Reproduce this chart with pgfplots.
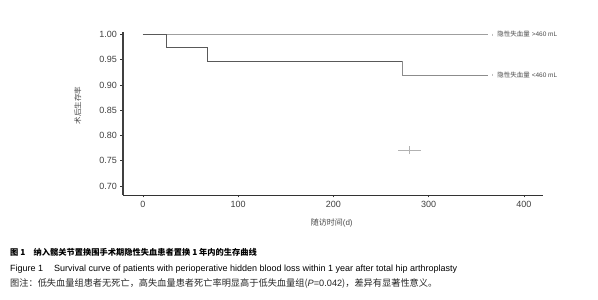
\documentclass[border=0pt]{standalone}
\usepackage{pgfplots}
\pgfplotsset{compat=1.18}
\usepackage{fontspec}
\setmainfont{Liberation Sans}
\newfontfamily\cjk{Noto Sans CJK SC}
\begin{document}
\begin{tikzpicture}
\path[use as bounding box, fill=white] (0pt,0pt) rectangle (598pt,300pt);
\begin{axis}[
  at={(123pt,105pt)}, anchor=south west,
  scale only axis, width=420pt, height=163pt,
  xmin=-21, xmax=420, ymin=0.682, ymax=1.005,
  axis x line*=bottom, axis y line*=left,
  x axis line style={black!80, line width=0.8pt, -},
  y axis line style={black!75, line width=1.6pt, -},
  xtick={0,100,200,300,400},
  ytick={0.70,0.75,0.80,0.85,0.90,0.95,1.00},
  yticklabel style={/pgf/number format/.cd, fixed, fixed zerofill, precision=2},
  /pgf/number format/assume math mode=true,
  tick label style={font=\fontsize{9}{10}\selectfont, text=black!75},
  tick style={black!80, line width=0.6pt},
  tick align=outside, major tick length=2.5pt,
  xlabel={\cjk 随访时间\rmfamily(d)},
  xlabel style={font=\fontsize{8}{9}\selectfont, text=black!70, at={(axis description cs:0.497,-0.17)}, anchor=center},
  ylabel={\cjk 术后生存率},
  ylabel style={font=\fontsize{7.5}{8}\selectfont, text=black!70, at={(axis description cs:-0.108,0.55)}, anchor=center},
  clip=false,
]
% upper group (>460 mL)
\addplot[const plot, gray!75, line width=0.6pt] coordinates {(0,1.0)(362,1.0)};
% lower group (<460 mL)
\addplot[const plot, black!65, line width=1.0pt] coordinates {(0,1.0)(25,0.974)(68,0.947)(272,0.947)};
\addplot[const plot, black!45, line width=0.7pt] coordinates {(272,0.947)(272,0.92)(362,0.92)};
% censor marks
\addplot[only marks, mark=|, mark size=1pt, gray!50] coordinates {(367,1.0)(367,0.92)};
% stray cross
\addplot[gray!60, line width=0.4pt] coordinates {(268,0.771)(292,0.771)};
\addplot[gray!60, line width=0.4pt] coordinates {(280,0.763)(280,0.779)};
\node[anchor=west, font=\fontsize{6.5}{7}\selectfont, text=black!70, inner sep=0pt] at (axis cs:372,1.0) {{\cjk 隐性失血量} \textgreater 460 mL};
\node[anchor=west, font=\fontsize{6.5}{7}\selectfont, text=black!70, inner sep=0pt] at (axis cs:372,0.92) {{\cjk 隐性失血量} \textless 460 mL};
\end{axis}
\node[anchor=west, inner sep=0pt, font=\fontsize{8.25}{9}\selectfont\bfseries] at (10pt,48pt) {\cjk 图 1\quad 纳入髋关节置换围手术期隐性失血患者置换 1 年内的生存曲线};
\node[anchor=west, inner sep=0pt, font=\fontsize{9}{10}\selectfont] at (10pt,31pt) {Figure 1\hspace{1.2em}Survival curve of patients with perioperative hidden blood loss within 1 year after total hip arthroplasty};
\node[anchor=west, inner sep=0pt, font=\fontsize{9.2}{10}\selectfont, text=black!85] at (10pt,16.5pt) {{\cjk 图注：低失血量组患者无死亡，高失血量患者死亡率明显高于低失血量组(}\textit{P}=0.042{\cjk )，差异有显著性意义。}};
\end{tikzpicture}
\end{document}
